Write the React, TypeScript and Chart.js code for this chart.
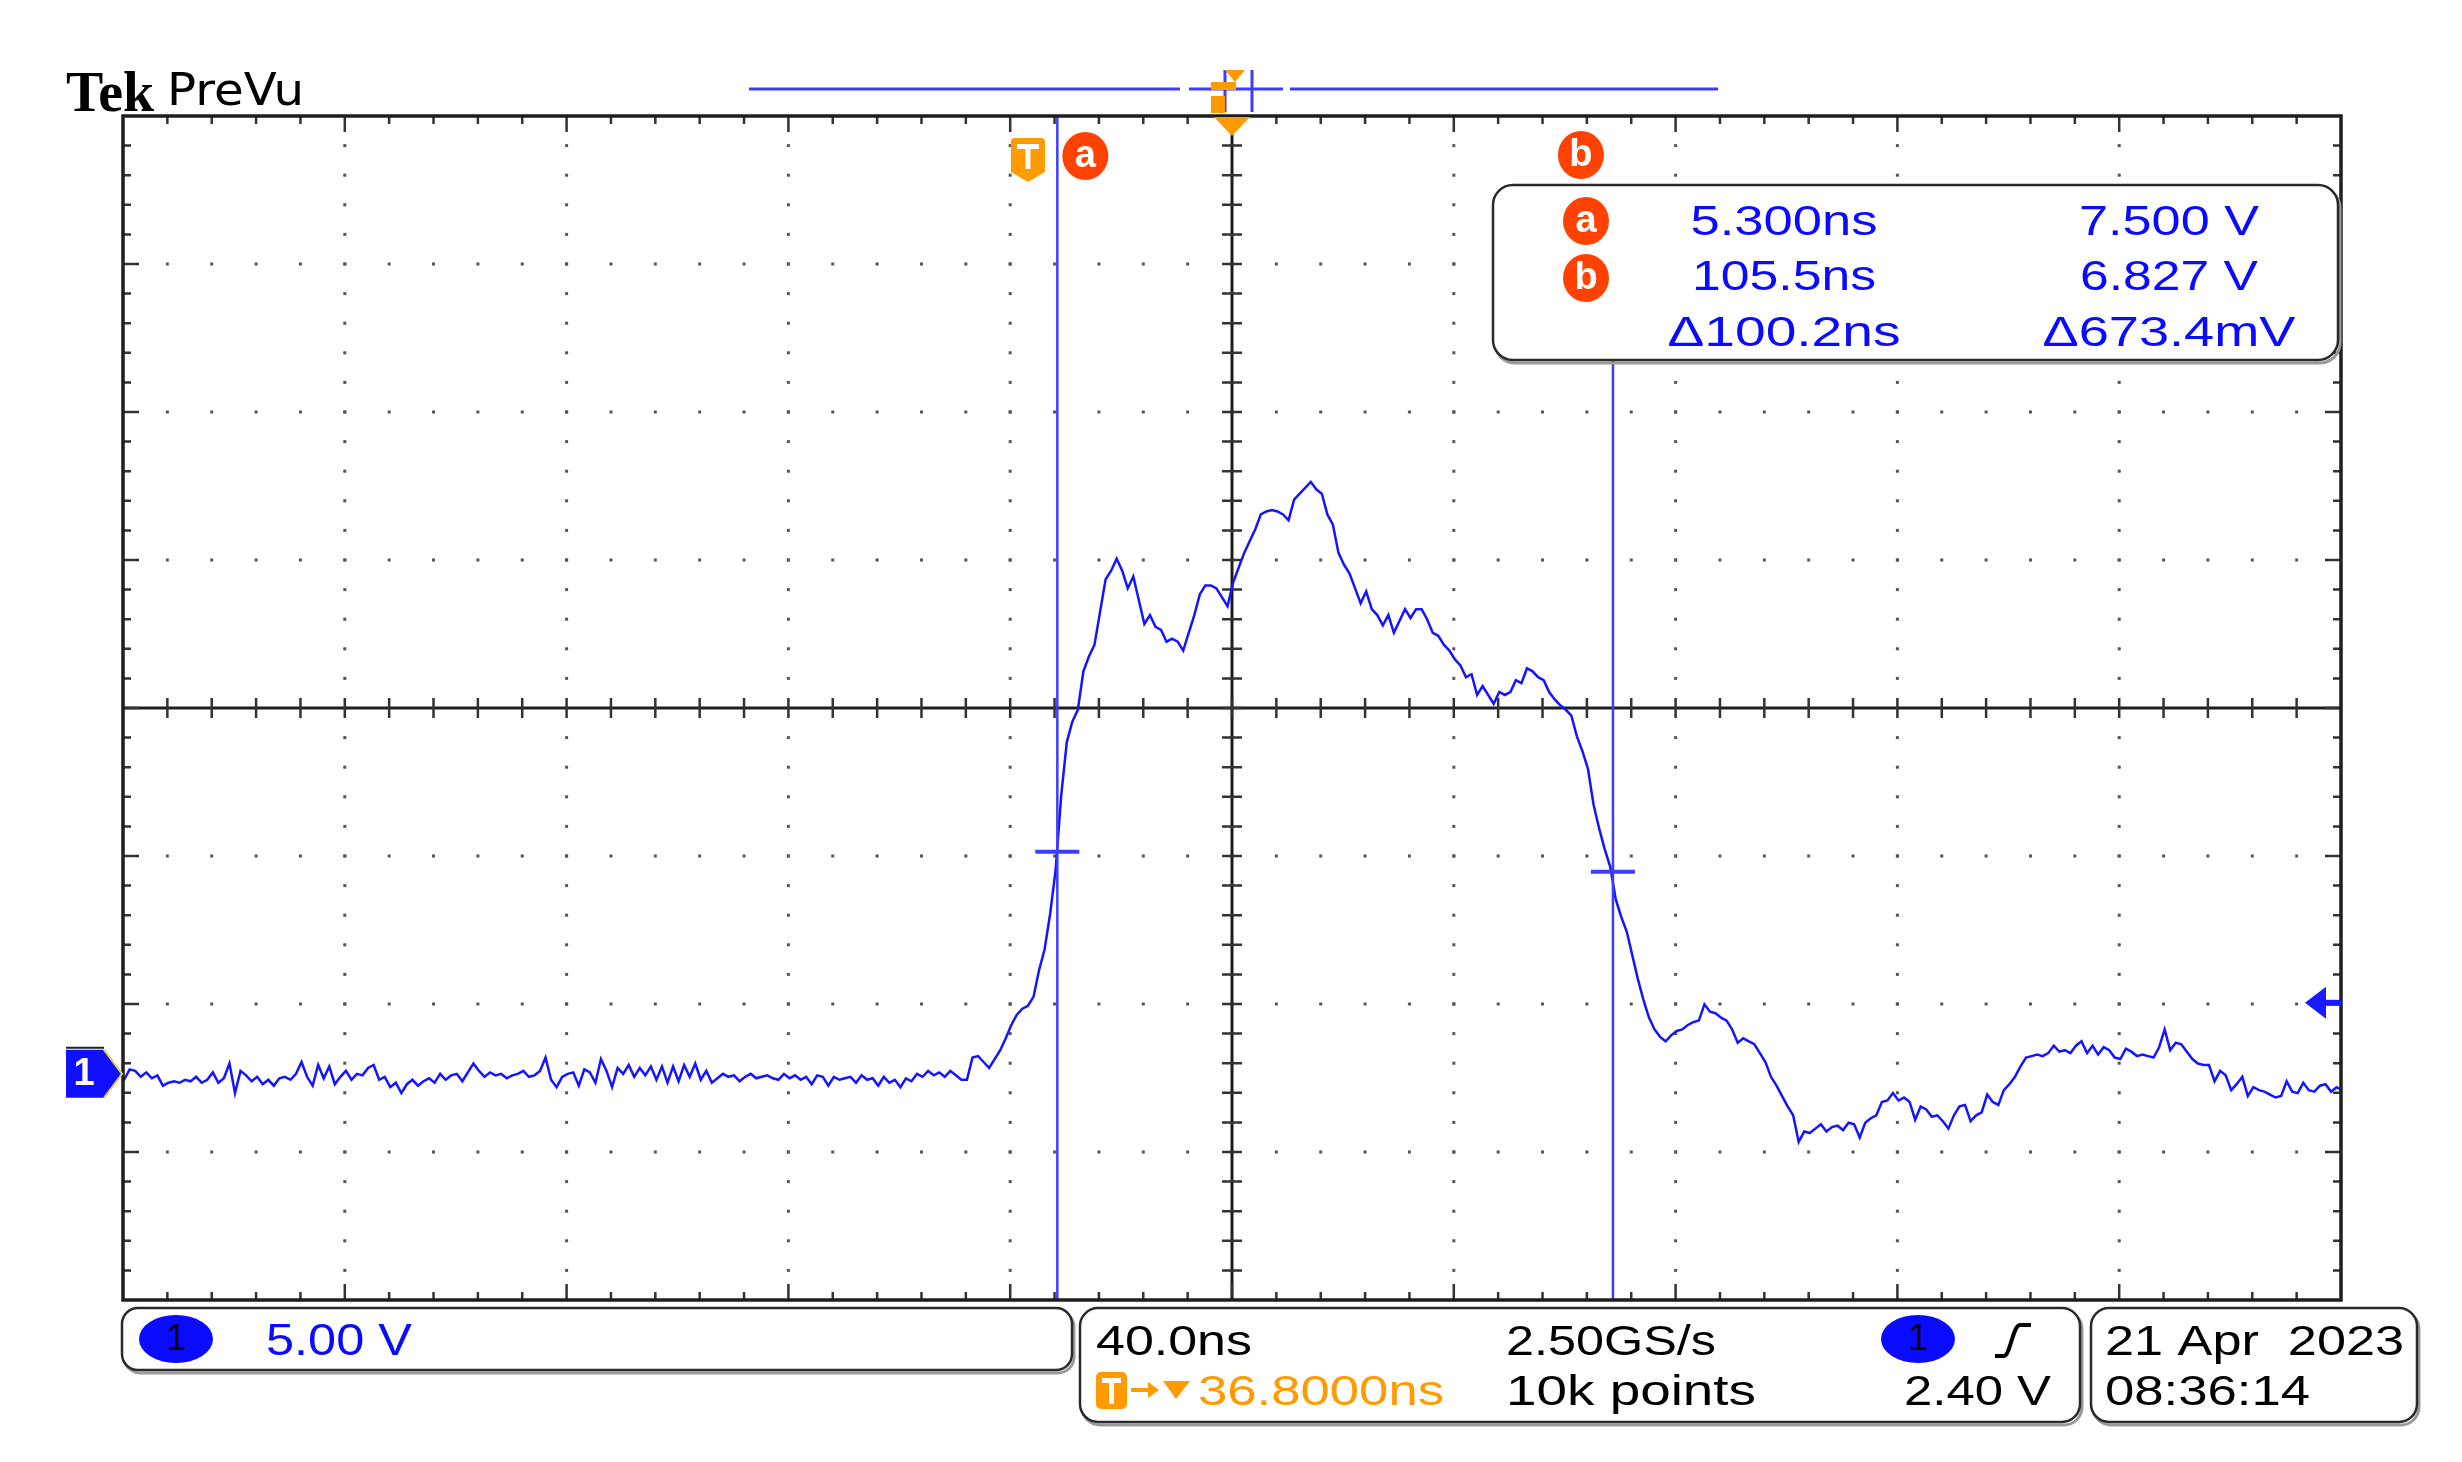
import React, { useEffect, useRef } from 'react';
import { Chart, registerables } from 'chart.js';
Chart.register(...registerables);

// ---------- DATA ----------
// Channel 1 trace, sampled every 1 ns (time in ns, value in volts)
const T_START_NS = -164;
const T_STEP_NS = 1;
const CH1_BASELINE_V = [
  0.2, -0.2, 0.15, 0.1, -0.1, 0.05, -0.15, -0.05, -0.4, -0.3,
  -0.25, -0.3, -0.2, -0.25, -0.1, -0.3, -0.2, 0.05, -0.3, -0.15,
  0.35, -0.65, 0.1, -0.05, -0.25, -0.1, -0.35, -0.2, -0.4, -0.15,
  -0.1, -0.2, 0.0, 0.4, -0.1, -0.4, 0.3, -0.15, 0.25, -0.35,
  -0.1, 0.1, -0.2, 0.0, -0.05, 0.2, 0.3, -0.2, -0.1, -0.45,
  -0.3, -0.65, -0.35, -0.2, -0.4, -0.25, -0.15, -0.3, 0.0, -0.2,
  -0.05, 0.0, -0.25, 0.05, 0.35, 0.1, -0.1, 0.05, -0.05, 0.0,
  -0.15, -0.05, 0.0, 0.1, -0.1, -0.05, 0.1, 0.55, -0.2, -0.45,
  -0.1, 0.0, 0.05, -0.4, 0.15, 0.05, -0.3, 0.5, 0.1, -0.45,
  0.2, 0.0, 0.3, -0.1, 0.2, -0.05, 0.25, -0.2, 0.25, -0.3,
  0.25, -0.25, 0.3, -0.1, 0.35, -0.2, 0.1, -0.3, -0.15, 0.0,
  -0.1, -0.05, -0.25, -0.1, 0.0, -0.15, -0.1, -0.05, -0.15, -0.2,
  0.0, -0.15, -0.05, -0.2, -0.1, -0.35, -0.05, -0.1, -0.4, -0.1,
  -0.2, -0.15, -0.1, -0.3, -0.05, -0.2, -0.15, -0.4, -0.1, -0.3,
  -0.2, -0.45, -0.15, -0.25, 0.0, -0.1, 0.1, -0.05, 0.05, -0.1,
  0.1, -0.05, -0.2,
];
const CH1_EDGE_V = [
  -0.2, 0.55, 0.6, 0.4, 0.2, 0.5, 0.8, 1.2, 1.65, 2.0,
  2.2, 2.3, 2.6, 3.5, 4.2, 5.4, 6.9, 9.4, 11.2, 11.9,
  12.3, 13.6, 14.1, 14.5, 15.6, 16.7, 17.0, 17.4,
];
const CH1_PULSE_V = [
  17.0, 16.4, 16.8, 16.0, 15.2, 15.5, 15.1, 15.0, 14.6, 14.7,
  14.6, 14.3, 14.9, 15.5, 16.2, 16.5, 16.5, 16.4, 16.1, 15.8,
  16.6, 17.1, 17.6, 18.0, 18.4, 18.9, 19.0, 19.05, 19.0, 18.9,
  18.7, 19.4, 19.6, 19.8, 20.0, 19.75, 19.6, 18.9, 18.55, 17.6,
  17.2, 16.9, 16.4, 15.9, 16.3, 15.7, 15.5, 15.15, 15.5, 14.9,
  15.3, 15.7, 15.4, 15.7, 15.7, 15.35, 14.9, 14.8, 14.5, 14.3,
  14.0, 13.8, 13.4, 13.5, 12.8, 13.1, 12.8, 12.5, 12.9, 12.8,
  12.9, 13.3, 13.2, 13.7, 13.6, 13.4, 13.3, 12.9, 12.65, 12.45,
  12.3, 12.1, 11.4, 10.9, 10.3, 9.1, 8.3, 7.6, 7.0, 5.9,
];
const CH1_TAIL_V = [
  5.3, 4.8, 4.0, 3.2, 2.5, 1.9, 1.5, 1.25, 1.1, 1.3,
  1.45, 1.5, 1.65, 1.75, 1.8, 2.35, 2.1, 2.05, 1.9, 1.8,
  1.5, 1.05, 1.2, 1.1, 1.0, 0.7, 0.4, -0.1, -0.4, -0.75,
  -1.1, -1.4, -2.3, -1.95, -2.0, -1.85, -1.7, -1.95, -1.8, -1.75,
  -1.9, -1.65, -1.7, -2.15, -1.65, -1.5, -1.4, -0.95, -0.9, -0.65,
  -0.9, -0.8, -0.95, -1.55, -1.1, -1.2, -1.45, -1.4, -1.6, -1.85,
  -1.4, -1.1, -1.05, -1.6, -1.4, -1.3, -0.7, -0.95, -1.05, -0.55,
  -0.35, -0.1, 0.25, 0.55, 0.6, 0.65, 0.6, 0.7, 0.95, 0.75,
  0.8, 0.7, 0.95, 1.1, 0.7, 0.95, 0.65, 0.9, 0.8, 0.55,
  0.5, 0.85, 0.75, 0.6, 0.65, 0.6, 0.55, 0.9, 1.5, 0.8,
  1.05, 1.0, 0.75, 0.5, 0.35, 0.3, 0.3, -0.25, 0.1, -0.05,
  -0.55, -0.35, -0.1, -0.75, -0.45, -0.55, -0.6, -0.7, -0.8, -0.75,
  -0.25, -0.6, -0.65, -0.3, -0.55, -0.6, -0.4, -0.35, -0.6, -0.45,
  -0.55,
];

// Screen settings
const X_RANGE_NS = [-163.2, 236.8]; // 40 ns/div, 10 div
const Y_RANGE_V = [-7.64, 32.36]; // 5 V/div, 8 div
const H_DIVS = 10;
const V_DIVS = 8;
const CURSOR_T_NS = [5.3, 105.5];
const CURSOR_V = [7.5, 6.827];
const CURSOR_LABELS = ['a', 'b'];
const TRIGGER_T_NS = 0;
const TRIGGER_LEVEL_V = 2.4;
const H_POSITION_NS = 36.8;
const READOUT_TIME = ['5.300ns', '105.5ns', '\u0394100.2ns'];
const READOUT_VOLT = ['7.500 V', '6.827 V', '\u0394673.4mV'];

// ---------- DRAW HELPERS ----------
const SANS = '"Liberation Sans", Arial, sans-serif';
const BLUE_TXT = '#0a0aff';
const ORANGE = '#ff9a00';
const RED = '#ff4200';
const CURSOR_BLUE = '#3d3dff';

function fitText(ctx: CanvasRenderingContext2D, text: string, x: number, baseline: number, size: number,
  width: number, color: string, align: 'left' | 'center' = 'left', weight = 'normal', family = SANS) {
  ctx.save();
  ctx.font = `${weight} ${size}px ${family}`;
  ctx.fillStyle = color;
  ctx.textAlign = 'left';
  ctx.textBaseline = 'alphabetic';
  const w = ctx.measureText(text).width;
  const sx = width / w;
  const x0 = align === 'center' ? x - width / 2 : x;
  ctx.translate(x0, baseline);
  ctx.scale(sx, 1);
  ctx.fillText(text, 0, 0);
  ctx.restore();
}

function centerText(ctx: CanvasRenderingContext2D, text: string, x: number, y: number, size: number, color: string, weight = 'bold') {
  ctx.save();
  ctx.font = `${weight} ${size}px ${SANS}`;
  ctx.fillStyle = color;
  ctx.textAlign = 'center';
  ctx.textBaseline = 'middle';
  ctx.fillText(text, x, y);
  ctx.restore();
}

function circleLabel(ctx: CanvasRenderingContext2D, label: string, x: number, y: number) {
  ctx.save();
  ctx.fillStyle = RED;
  ctx.beginPath();
  ctx.ellipse(x, y, 23, 24, 0, 0, Math.PI * 2);
  ctx.fill();
  ctx.restore();
  centerText(ctx, label, x, y + 1, 38, '#ffffff', 'bold');
}

function roundBox(ctx: CanvasRenderingContext2D, x: number, y: number, w: number, h: number, r: number) {
  ctx.save();
  ctx.strokeStyle = '#9a9a9a';
  ctx.lineWidth = 3;
  ctx.beginPath();
  ctx.roundRect(x + 2, y + 3, w, h, r);
  ctx.stroke();
  ctx.fillStyle = '#ffffff';
  ctx.strokeStyle = '#2a2a2a';
  ctx.lineWidth = 2.5;
  ctx.beginPath();
  ctx.roundRect(x, y, w, h, r);
  ctx.fill();
  ctx.stroke();
  ctx.restore();
}

const scopePlugin = {
  id: 'scope',
  beforeDatasetsDraw(chart: any) {
    const { ctx, chartArea: a } = chart;
    const divW = (a.right - a.left) / H_DIVS;
    const divH = (a.bottom - a.top) / V_DIVS;
    const cx = chart.scales.x.getPixelForValue(H_POSITION_NS);
    const cy = a.top + divH * V_DIVS / 2;
    ctx.save();
    ctx.fillStyle = '#ffffff';
    ctx.fillRect(0, 0, chart.width, chart.height);
    // dotted graticule
    ctx.fillStyle = '#555555';
    for (let k = 1; k < H_DIVS; k++) {
      if (k === H_DIVS / 2) continue;
      const x = a.left + k * divW;
      for (let j = 1; j < V_DIVS * 5; j++) {
        const y = a.top + j * divH / 5;
        ctx.fillRect(x - 1.5, y - 1.5, 3, 3);
      }
    }
    for (let k = 1; k < V_DIVS; k++) {
      if (k === V_DIVS / 2) continue;
      const y = a.top + k * divH;
      for (let j = 1; j < H_DIVS * 5; j++) {
        const x = a.left + j * divW / 5;
        ctx.fillRect(x - 1.5, y - 1.5, 3, 3);
      }
    }
    // center crosshair
    ctx.strokeStyle = '#1e1e1e';
    ctx.lineWidth = 3;
    ctx.beginPath();
    ctx.moveTo(cx, a.top); ctx.lineTo(cx, a.bottom);
    ctx.moveTo(a.left, cy); ctx.lineTo(a.right, cy);
    ctx.stroke();
    ctx.lineWidth = 2.5;
    ctx.strokeStyle = '#333';
    ctx.beginPath();
    for (let j = 1; j < H_DIVS * 5; j++) {
      const x = a.left + j * divW / 5;
      ctx.moveTo(x, cy - 10); ctx.lineTo(x, cy + 10);
    }
    for (let j = 1; j < V_DIVS * 5; j++) {
      const y = a.top + j * divH / 5;
      ctx.moveTo(cx - 10, y); ctx.lineTo(cx + 10, y);
    }
    // edge ticks
    for (let j = 1; j < H_DIVS * 5; j++) {
      const x = a.left + j * divW / 5;
      const len = j % 5 === 0 ? 16 : 8;
      ctx.moveTo(x, a.top); ctx.lineTo(x, a.top + len);
      ctx.moveTo(x, a.bottom); ctx.lineTo(x, a.bottom - len);
    }
    for (let j = 1; j < V_DIVS * 5; j++) {
      const y = a.top + j * divH / 5;
      const len = j % 5 === 0 ? 16 : 8;
      ctx.moveTo(a.left, y); ctx.lineTo(a.left + len, y);
      ctx.moveTo(a.right, y); ctx.lineTo(a.right - len, y);
    }
    ctx.stroke();
    ctx.restore();
  },
  afterDatasetsDraw(chart: any) {
    const { ctx, chartArea: a } = chart;
    const xs = chart.scales.x;
    const ys = chart.scales.y;
    const cx = xs.getPixelForValue(H_POSITION_NS);
    const box = { x: 1493, y: 185, w: 845, h: 175 };
    ctx.save();
    // cursors
    ctx.strokeStyle = CURSOR_BLUE;
    ctx.lineWidth = 2.5;
    CURSOR_T_NS.forEach((t, i) => {
      const x = xs.getPixelForValue(t);
      const y = ys.getPixelForValue(CURSOR_V[i]);
      ctx.beginPath();
      ctx.moveTo(x, i === 1 ? box.y + box.h : a.top);
      ctx.lineTo(x, a.bottom);
      ctx.stroke();
      ctx.lineWidth = 4;
      ctx.beginPath();
      ctx.moveTo(x - 22, y); ctx.lineTo(x + 22, y);
      ctx.stroke();
      ctx.lineWidth = 2.5;
    });
    // frame
    ctx.strokeStyle = '#1e1e1e';
    ctx.lineWidth = 3.5;
    ctx.strokeRect(a.left, a.top, a.right - a.left, a.bottom - a.top);

    // trigger position marker "T"
    const tx = xs.getPixelForValue(TRIGGER_T_NS);
    ctx.fillStyle = ORANGE;
    ctx.beginPath();
    ctx.moveTo(tx - 17, 142);
    ctx.quadraticCurveTo(tx - 17, 138, tx - 13, 138);
    ctx.lineTo(tx + 13, 138);
    ctx.quadraticCurveTo(tx + 17, 138, tx + 17, 142);
    ctx.lineTo(tx + 17, 172);
    ctx.lineTo(tx, 182);
    ctx.lineTo(tx - 17, 172);
    ctx.closePath();
    ctx.fill();
    ctx.fillStyle = '#fff';
    ctx.fillRect(tx - 11, 144, 22, 5);
    ctx.fillRect(tx - 2.5, 144, 5, 25);
    // cursor labels at top
    circleLabel(ctx, CURSOR_LABELS[0], xs.getPixelForValue(CURSOR_T_NS[0]) + 28, 156);
    circleLabel(ctx, CURSOR_LABELS[1], xs.getPixelForValue(CURSOR_T_NS[1]) - 32, 155);

    // expansion point marker at center top
    ctx.fillStyle = ORANGE;
    ctx.beginPath();
    ctx.moveTo(cx - 18, a.top + 1); ctx.lineTo(cx + 18, a.top + 1); ctx.lineTo(cx, a.top + 20);
    ctx.closePath();
    ctx.fill();

    // record view bar above
    ctx.strokeStyle = CURSOR_BLUE;
    ctx.lineWidth = 3;
    ctx.beginPath();
    ctx.moveTo(749, 89); ctx.lineTo(1180, 89);
    ctx.moveTo(1189, 89); ctx.lineTo(1283, 89);
    ctx.moveTo(1290, 89); ctx.lineTo(1718, 89);
    ctx.moveTo(1225, 70); ctx.lineTo(1225, 112);
    ctx.moveTo(1252, 70); ctx.lineTo(1252, 112);
    ctx.stroke();
    ctx.fillStyle = ORANGE;
    ctx.fillRect(1211, 96, 14, 17);
    ctx.fillRect(1211, 82, 25, 8);
    ctx.beginPath();
    ctx.moveTo(1225, 70); ctx.lineTo(1245, 70); ctx.lineTo(1235, 82);
    ctx.closePath();
    ctx.fill();

    // trigger level arrow (right)
    const ty = ys.getPixelForValue(TRIGGER_LEVEL_V);
    ctx.fillStyle = '#1a1aff';
    ctx.beginPath();
    ctx.moveTo(a.right - 36, ty); ctx.lineTo(a.right - 15, ty - 16); ctx.lineTo(a.right - 15, ty + 16);
    ctx.closePath();
    ctx.fill();
    ctx.fillRect(a.right - 20, ty - 3, 20, 6);

    // channel 1 ground marker (left)
    const gy = ys.getPixelForValue(0);
    ctx.fillStyle = '#1010ff';
    ctx.beginPath();
    ctx.moveTo(66, gy - 24); ctx.lineTo(104, gy - 24); ctx.lineTo(122, gy); ctx.lineTo(104, gy + 24); ctx.lineTo(66, gy + 24);
    ctx.closePath();
    ctx.fill();
    ctx.strokeStyle = '#e0d050';
    ctx.lineWidth = 2;
    ctx.beginPath();
    ctx.moveTo(104, gy - 24); ctx.lineTo(122, gy); ctx.lineTo(104, gy + 24);
    ctx.stroke();
    ctx.strokeStyle = '#222';
    ctx.beginPath();
    ctx.moveTo(66, gy - 26); ctx.lineTo(104, gy - 26);
    ctx.stroke();
    centerText(ctx, '1', 84, gy + 1, 38, '#ffffff', 'bold');

    // title
    fitText(ctx, 'Tek', 66, 111, 58, 88, '#000', 'left', 'bold', '"Liberation Serif", "DejaVu Serif", serif');
    fitText(ctx, 'PreVu', 167, 105, 44, 137, '#000', 'left', 'normal', '"DejaVu Sans", sans-serif');

    // cursor readout box
    roundBox(ctx, box.x, box.y, box.w, box.h, 20);
    const rowBase = [235, 290, 346];
    const rowMid = [221, 278];
    circleLabel(ctx, CURSOR_LABELS[0], 1586, rowMid[0]);
    circleLabel(ctx, CURSOR_LABELS[1], 1586, rowMid[1]);
    const tWidths = [187, 184, 233];
    const vWidths = [180, 178, 253];
    READOUT_TIME.forEach((s, i) => fitText(ctx, s, 1784, rowBase[i], 43, tWidths[i], BLUE_TXT, 'center'));
    READOUT_VOLT.forEach((s, i) => fitText(ctx, s, 2169, rowBase[i], 43, vWidths[i], BLUE_TXT, 'center'));

    // bottom status boxes
    roundBox(ctx, 122, 1308, 950, 62, 16);
    roundBox(ctx, 1080, 1308, 1000, 114, 18);
    roundBox(ctx, 2091, 1308, 326, 114, 18);
    // channel badge
    const badge = (x: number, y: number) => {
      ctx.fillStyle = '#0a0aff';
      ctx.beginPath();
      ctx.ellipse(x, y, 37, 24, 0, 0, Math.PI * 2);
      ctx.fill();
      centerText(ctx, '1', x, y + 1, 36, '#000', 'normal');
    };
    badge(176, 1339);
    fitText(ctx, '5.00 V', 266, 1355, 44, 146, BLUE_TXT);
    fitText(ctx, '40.0ns', 1096, 1355, 42, 156, '#000');
    fitText(ctx, '2.50GS/s', 1506, 1355, 42, 210, '#000');
    badge(1918, 1339);
    ctx.strokeStyle = '#000';
    ctx.lineWidth = 4;
    ctx.beginPath();
    ctx.moveTo(1995, 1356); ctx.lineTo(2004, 1356);
    ctx.bezierCurveTo(2010, 1356, 2013, 1325, 2020, 1325);
    ctx.lineTo(2031, 1325);
    ctx.stroke();
    // orange trigger-offset readout
    ctx.fillStyle = ORANGE;
    ctx.beginPath();
    ctx.roundRect(1096, 1372, 31, 37, 5);
    ctx.fill();
    ctx.fillStyle = '#fff';
    ctx.fillRect(1102, 1378, 19, 5);
    ctx.fillRect(1109, 1378, 5, 26);
    ctx.strokeStyle = ORANGE;
    ctx.fillStyle = ORANGE;
    ctx.lineWidth = 4;
    ctx.beginPath();
    ctx.moveTo(1131, 1390); ctx.lineTo(1150, 1390);
    ctx.stroke();
    ctx.beginPath();
    ctx.moveTo(1159, 1390); ctx.lineTo(1148, 1382); ctx.lineTo(1148, 1398);
    ctx.closePath();
    ctx.fill();
    ctx.beginPath();
    ctx.moveTo(1163, 1381); ctx.lineTo(1190, 1381); ctx.lineTo(1176, 1399);
    ctx.closePath();
    ctx.fill();
    fitText(ctx, '36.8000ns', 1198, 1405, 42, 246, ORANGE);
    fitText(ctx, '10k points', 1506, 1405, 42, 250, '#000');
    fitText(ctx, '2.40 V', 1904, 1405, 42, 147, '#000');
    fitText(ctx, '21 Apr  2023', 2105, 1355, 42, 299, '#000');
    fitText(ctx, '08:36:14', 2105, 1405, 42, 205, '#000');
    ctx.restore();
  },
};

export default function App() {
  const ref = useRef<HTMLCanvasElement | null>(null);
  useEffect(() => {
    document.body.style.margin = '0';
    const values = [...CH1_BASELINE_V, ...CH1_EDGE_V, ...CH1_PULSE_V, ...CH1_TAIL_V];
    const points = values.map((v, i) => ({ x: T_START_NS + i * T_STEP_NS, y: v }));
    const chart = new Chart(ref.current as HTMLCanvasElement, {
      type: 'line',
      data: {
        datasets: [{
          data: points,
          borderColor: '#1414ff',
          borderWidth: 2.5,
          pointRadius: 0,
          tension: 0,
          fill: false,
        }],
      },
      options: {
        responsive: false,
        devicePixelRatio: 1,
        animation: false,
        layout: { padding: { left: 123, top: 116, right: 121, bottom: 162 } },
        plugins: { legend: { display: false }, tooltip: { enabled: false } },
        scales: {
          x: { type: 'linear', display: false, min: X_RANGE_NS[0], max: X_RANGE_NS[1] },
          y: { type: 'linear', display: false, min: Y_RANGE_V[0], max: Y_RANGE_V[1] },
        },
      },
      plugins: [scopePlugin],
    });
    return () => chart.destroy();
  }, []);
  return <canvas ref={ref} width={2462} height={1462} style={{ display: 'block' }} />;
}
